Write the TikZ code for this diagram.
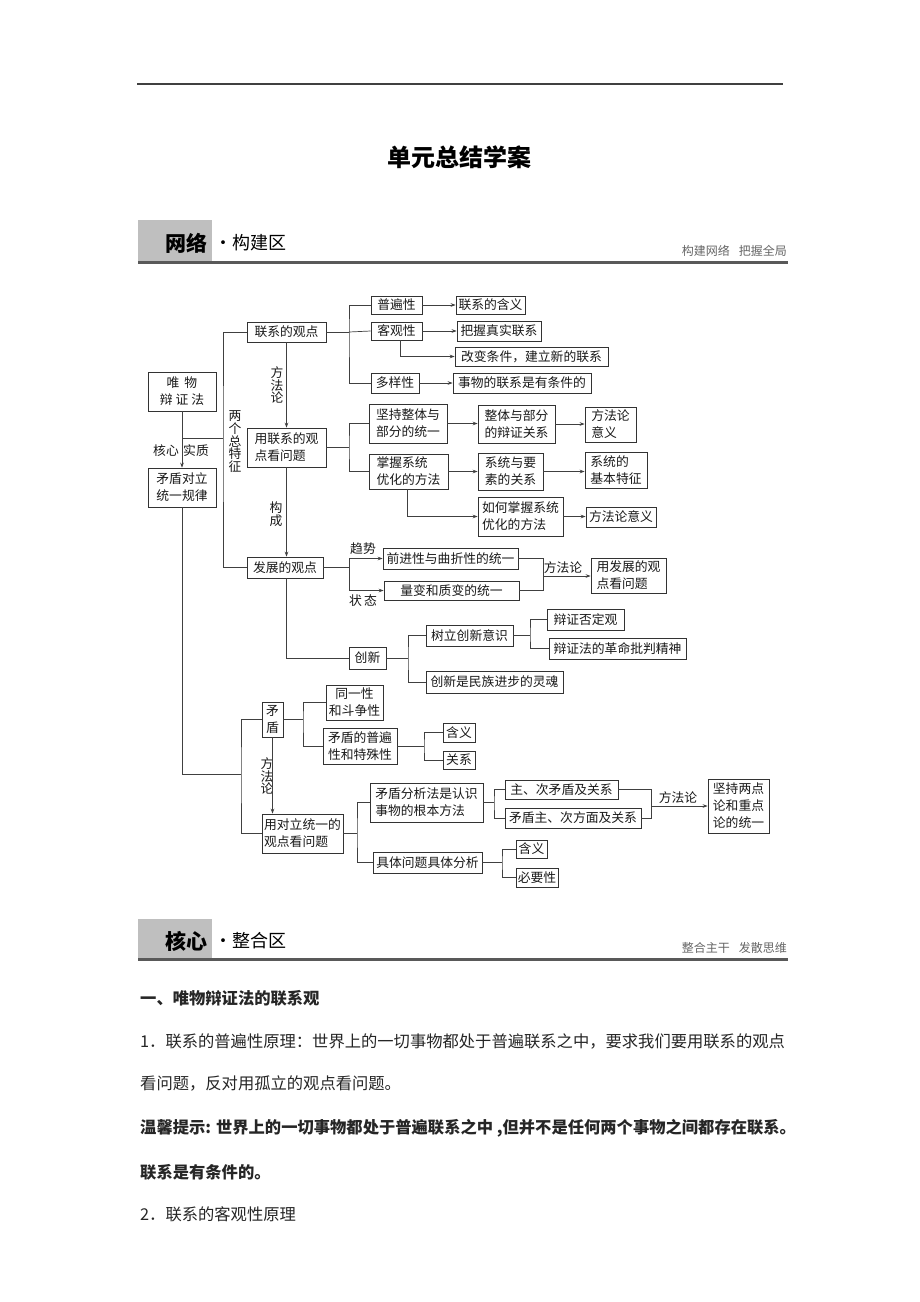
\documentclass[tikz,border=0pt]{standalone}
\usepackage{fontspec}
\setmainfont{Noto Sans CJK SC}
\usetikzlibrary{arrows.meta}
\newcommand\dfont{\fontsize{12.8}{17}\selectfont}
\newcommand\tfont{\fontsize{16.3}{20}\selectfont}
\tikzset{
  bx/.style={draw=black!80, line width=0.7pt, inner sep=0pt, font=\dfont, text=black!90},
  ln/.style={draw=black!75, line width=0.7pt},
  ar/.style={ln, -{Stealth[length=5pt,width=3.6pt]}},
  lb/.style={font=\dfont, inner sep=0pt, text=black!90},
  vlb/.style={inner sep=0pt, align=center, text=black!90, font=\fontsize{12.8}{12.8}\selectfont},
  body/.style={anchor=west, inner sep=0pt, font=\tfont, text=black!85},
}
\newcommand\mybox[7][center]{\node[bx, align=#1, minimum width={#5-#3}, minimum height={#6-#4}] (#2) at ({(#3+#5)/2},{(#4+#6)/2}) {#7};}
\begin{document}
\begin{tikzpicture}[x=1pt,y=-1pt]
\useasboundingbox (0,0) rectangle (920,1302);
\fill[white] (0,0) rectangle (920,1302);
% page header
\draw[line width=1.3pt, black!75] (137,84) -- (783,84);
\node[font=\bfseries\fontsize{24}{24}\selectfont] (title) at (459,157) {单元总结学案};
% section header 1
\fill[black!25] (138,220) rectangle (212,261);
\node[font=\bfseries\fontsize{21}{21}\selectfont, inner sep=0pt] (h1) at (186,243) {网络};
\node[font=\fontsize{18}{18}\selectfont, anchor=west, inner sep=0pt] (h1b) at (214,243) {·构建区};
\node[font=\fontsize{12}{12}\selectfont, anchor=east, inner sep=0pt, text=black!60] (h1c) at (787,251) {构建网络\hspace{9pt}把握全局};
\draw[line width=3pt, black!65] (138,262) -- (788,262);
% section header 2
\fill[black!25] (138,919) rectangle (212,958);
\node[font=\bfseries\fontsize{21}{21}\selectfont, inner sep=0pt] (h2) at (186,941) {核心};
\node[font=\fontsize{18}{18}\selectfont, anchor=west, inner sep=0pt] (h2b) at (214,941) {·整合区};
\node[font=\fontsize{12}{12}\selectfont, anchor=east, inner sep=0pt, text=black!60] (h2c) at (787,948) {整合主干\hspace{9pt}发散思维};
\draw[line width=3pt, black!65] (138,959) -- (788,959);
% body text
\node[body, font=\bfseries\tfont] (t1) at (140,998) {一、唯物辩证法的联系观};
\node[body] (t2) at (140,1041) {1．联系的普遍性原理：世界上的一切事物都处于普遍联系之中，要求我们要用联系的观点};
\node[body] (t3) at (140,1083) {看问题，反对用孤立的观点看问题。};
\node[body, font=\bfseries\tfont] (t4) at (140,1128) {温馨提示: 世界上的一切事物都处于普遍联系之中 ,但并不是任何两个事物之间都存在联系。};
\node[body, font=\bfseries\tfont] (t5) at (140,1172) {联系是有条件的。};
\node[body] (t6) at (140,1214) {2．联系的客观性原理};

% ===== diagram boxes =====
\mybox{A}{148}{372}{216}{411}{唯\hspace{5pt}物\\辩\hspace{3pt}证\hspace{3pt}法}
\mybox{B}{148}{468}{216}{507}{矛盾对立\\统一规律}
\mybox{C}{247}{322}{326}{342}{联系的观点}
\mybox[left]{D}{247}{428}{326}{467}{用联系的观\\点看问题}
\mybox{E}{247}{557}{323}{578}{发展的观点}
\mybox{F}{371}{296}{422}{314}{普遍性}
\mybox{G}{456}{296}{525}{314}{联系的含义}
\mybox{H}{371}{322}{422}{340}{客观性}
\mybox{I}{457}{321}{541}{341}{把握真实联系}
\mybox{J}{455}{347}{608}{366}{改变条件，建立新的联系}
\mybox{K}{371}{373}{419}{393}{多样性}
\mybox{L}{453}{373}{591}{393}{事物的联系是有条件的}
\mybox[left]{M}{369}{404}{447}{443}{坚持整体与\\部分的统一}
\mybox[left]{N}{478}{405}{555}{443}{整体与部分\\的辩证关系}
\mybox[left]{O}{585}{407}{636}{442}{方法论\\意义}
\mybox[left]{P}{369}{454}{448}{489}{掌握系统\\优化的方法}
\mybox[left]{Q}{478}{453}{543}{490}{系统与要\\素的关系}
\mybox[left]{R}{585}{452}{647}{488}{系统的\\基本特征}
\mybox[left]{S}{478}{497}{563}{536}{如何掌握系统\\优化的方法}
\mybox{T}{586}{507}{656}{527}{方法论意义}
\mybox{U}{383}{548}{518}{569}{前进性与曲折性的统一}
\mybox{V}{384}{581}{519}{600}{量变和质变的统一}
\mybox[left]{W}{591}{558}{666}{593}{用发展的观\\点看问题}
\mybox{X}{349}{647}{386}{669}{创新}
\mybox{Y}{426}{625}{513}{646}{树立创新意识}
\mybox{Z}{426}{671}{563}{693}{创新是民族进步的灵魂}
\mybox{AA}{547}{609}{624}{630}{辩证否定观}
\mybox{AB}{549}{638}{686}{659}{辩证法的革命批判精神}
\mybox{AC}{262}{702}{283}{737}{矛\\盾}
\mybox{AD}{326}{685}{383}{720}{同一性\\和斗争性}
\mybox[left]{AE}{323}{728}{397}{764}{矛盾的普遍\\性和特殊性}
\mybox{AF}{443}{723}{475}{742}{含义}
\mybox{AG}{443}{751}{475}{769}{关系}
\mybox[left]{AH}{262}{814}{343}{853}{用对立统一的\\观点看问题}
\mybox[left]{AI}{370}{783}{483}{822}{矛盾分析法是认识\\事物的根本方法}
\mybox{AJ}{373}{852}{482}{873}{具体问题具体分析}
\mybox{AK}{505}{780}{618}{799}{主、次矛盾及关系}
\mybox{AL}{505}{808}{641}{828}{矛盾主、次方面及关系}
\mybox[left]{AM}{708}{779}{769}{833}{坚持两点\\论和重点\\论的统一}
\mybox{AN}{516}{840}{547}{858}{含义}
\mybox{AO}{516}{868}{558}{887}{必要性}

% ===== labels =====
\node[lb] (l1) at (166,451) {核心};
\node[lb] (l2) at (196,451) {实质};
\node[vlb, font=\fontsize{12.8}{11.6}\selectfont] (l3) at (235,441.5) {两\\个\\总\\特\\征};
\node[vlb] (l4) at (277,385) {方\\法\\论};
\node[vlb] (l5) at (276,514) {构\\成};
\node[lb] (l6) at (363,549) {趋势};
\node[lb] (l7) at (363,601) {状\hspace{2pt}态};
\node[lb] (l8) at (563,568) {方法论};
\node[vlb] (l9) at (267,776) {方\\法\\论};
\node[lb] (l10) at (678,798) {方法论};

% ===== connectors =====
\draw[ar] (A.south) -- (B.north);
\coordinate (j1) at (223,438);
\draw[ln] (A.south |- j1) -- (j1);
\draw[ln] (C.west) -| (j1) |- (E.west);
\draw[ar] (C.south) -- (D.north);
\draw[ar] (D.south) -- (D.south |- E.north);

\coordinate (j2) at (349,332);
\draw[ln] (C.east) -- (j2);
\draw[ln] (F.west) -| (j2) |- (K.west);
\draw[ln] (j2) -- (H.west);
\draw[ar] (F.east) -- (F.east -| G.west);
\draw[ar] (H.east) -- (H.east -| I.west);
\draw[ar] ([xshift=3.5pt]H.south) |- (J.west);
\draw[ar] (K.east) -- (K.east -| L.west);

\coordinate (j3) at (349,447.5);
\draw[ln] (D.east) -- (j3);
\draw[ln] (M.west) -| (j3) |- (P.west);
\draw[ar] (M.east) -- (M.east -| N.west);
\draw[ar] (N.east) -- (N.east -| O.west);
\draw[ar] (P.east) -- (P.east -| Q.west);
\draw[ar] (Q.east) -- (Q.east -| R.west);
\draw[ar] ([xshift=-1.5pt]P.south) |- (S.west);
\draw[ar] (S.east) -- (S.east -| T.west);

\coordinate (j4) at (349,567.5);
\draw[ln] (E.east) -- (j4);
\draw[ar] (j4) |- (U.west);
\draw[ar] (j4) |- (V.west);
\coordinate (j5) at (543,576);
\draw[ln] (U.east) -| (j5);
\draw[ln] (V.east) -| (j5);
\draw[ar] (j5) -- (j5 -| W.west);

\draw[ln] (D.south |- E.south) |- (X.west);
\coordinate (j6) at (408,658);
\draw[ln] (X.east) -- (j6);
\draw[ln] (Y.west) -| (j6) |- (Z.west);
\coordinate (j7) at (530,635.5);
\draw[ln] (Y.east) -- (j7);
\draw[ln] (AA.west) -| (j7) |- (AB.west);

\coordinate (j8) at (241,774);
\draw[ln] (B.south) |- (j8);
\draw[ln] (AC.west) -| (j8) |- (AH.west);
\coordinate (j9) at (303,719.5);
\draw[ln] (AC.east) -- (j9);
\draw[ln] (AD.west) -| (j9) |- (AE.west);
\draw[ar] (AC.south) -- (AC.south |- AH.north);
\coordinate (j10) at (424,746);
\draw[ln] (AE.east) -- (j10);
\draw[ln] (AF.west) -| (j10) |- (AG.west);
\coordinate (j11) at (357,833.5);
\draw[ln] (AH.east) -- (j11);
\draw[ln] (AI.west) -| (j11) |- (AJ.west);
\coordinate (j12) at (494,802.5);
\draw[ln] (AI.east) -- (j12);
\draw[ln] (AK.west) -| (j12) |- (AL.west);
\coordinate (j13) at (651,806);
\draw[ln] (AK.east) -| (j13);
\draw[ln] (AL.east) -| (j13);
\draw[ar] (j13) -- (j13 -| AM.west);
\coordinate (j14) at (502,862.5);
\draw[ln] (AJ.east) -- (j14);
\draw[ln] (AN.west) -| (j14) |- (AO.west);
\end{tikzpicture}
\end{document}
